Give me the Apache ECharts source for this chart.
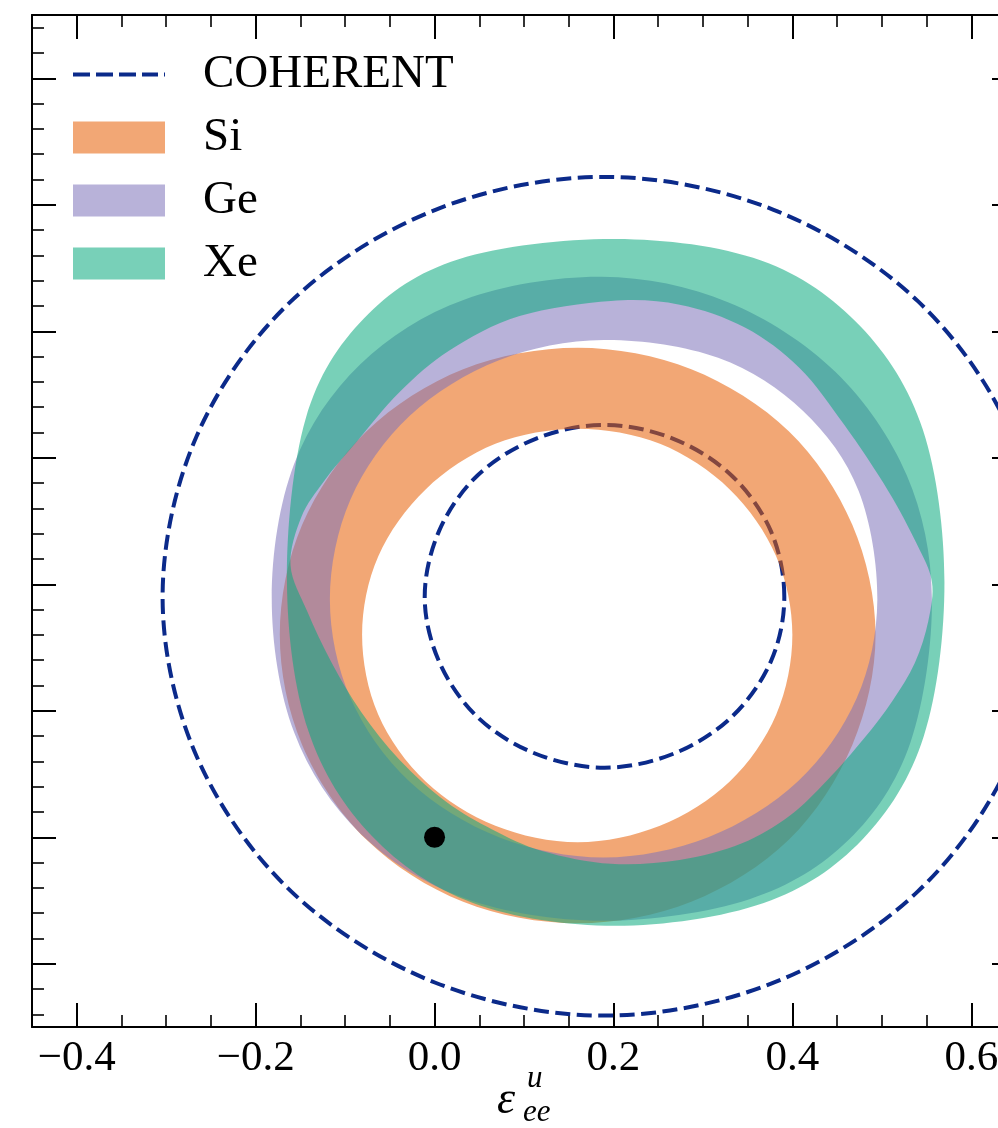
<!DOCTYPE html>
<html>
<head>
<meta charset="utf-8">
<script src="https://cdn.jsdelivr.net/npm/echarts@6/dist/echarts.min.js"></script>
<style>
html,body{margin:0;padding:0;background:#fff;overflow:hidden;width:998px;height:1128px}
#c{width:1040px;height:1128px}
</style>
</head>
<body>
<div id="c"></div>
<script>
// ---------------- data ----------------
const legendNames = ['COHERENT', 'Si', 'Ge', 'Xe'];
const xTickValues = [-0.4, -0.2, 0.0, 0.2, 0.4, 0.6];
const smPoint = [0.0, 0.0];

// COHERENT allowed-region boundaries (dashed)
const cohOuter = [[0.684,0.190],[0.646,0.317],[0.540,0.424],[0.379,0.496],[0.190,0.522],[0.001,0.496],[-0.160,0.424],[-0.266,0.317],[-0.304,0.190],[-0.266,0.064],[-0.160,-0.043],[0.001,-0.115],[0.190,-0.141],[0.379,-0.115],[0.540,-0.043],[0.646,0.064]];
const cohInner = [[0.391,0.190],[0.376,0.242],[0.332,0.286],[0.267,0.315],[0.190,0.326],[0.113,0.315],[0.048,0.286],[0.005,0.242],[-0.011,0.190],[0.005,0.139],[0.048,0.095],[0.113,0.066],[0.190,0.055],[0.267,0.066],[0.332,0.095],[0.376,0.139]];

// Si band
const siOuter = [[0.493,0.160],[0.467,0.247],[0.396,0.321],[0.287,0.370],[0.160,0.387],[0.032,0.370],[-0.076,0.321],[-0.148,0.247],[-0.173,0.160],[-0.148,0.073],[-0.076,-0.002],[0.032,-0.051],[0.160,-0.068],[0.287,-0.051],[0.396,-0.002],[0.467,0.073]];
const siInner = [[0.400,0.160],[0.382,0.222],[0.330,0.275],[0.252,0.311],[0.160,0.323],[0.068,0.311],[-0.010,0.275],[-0.063,0.222],[-0.081,0.160],[-0.063,0.097],[-0.010,0.044],[0.068,0.009],[0.160,-0.004],[0.252,0.009],[0.330,0.044],[0.382,0.097]];

// Ge band
const geOuter = [[0.556,0.189],[0.528,0.286],[0.448,0.368],[0.328,0.423],[0.187,0.443],[0.033,0.425],[-0.083,0.374],[-0.157,0.295],[-0.182,0.189],[-0.157,0.083],[-0.083,0.003],[0.033,-0.048],[0.187,-0.066],[0.352,-0.049],[0.463,-0.002],[0.532,0.075]];
const geInner = [[0.495,0.188],[0.474,0.274],[0.412,0.337],[0.317,0.379],[0.189,0.393],[0.072,0.377],[-0.028,0.333],[-0.094,0.267],[-0.117,0.188],[-0.094,0.110],[-0.028,0.044],[0.072,0.000],[0.189,-0.016],[0.306,0.000],[0.406,0.044],[0.472,0.110]];

// Xe band
const xeOuter = [[0.570,0.202],[0.546,0.322],[0.476,0.404],[0.365,0.456],[0.202,0.473],[0.027,0.457],[-0.079,0.410],[-0.144,0.331],[-0.165,0.202],[-0.141,0.084],[-0.070,0.001],[0.043,-0.052],[0.202,-0.070],[0.368,-0.052],[0.478,-0.002],[0.547,0.080]];
const xeInner = [[0.197,0.424],[0.274,0.421],[0.347,0.403],[0.408,0.371],[0.458,0.326],[0.507,0.274],[0.539,0.232],[0.556,0.202],[0.552,0.171],[0.537,0.138],[0.512,0.108],[0.480,0.078],[0.439,0.045],[0.397,0.017],[0.343,-0.005],[0.274,-0.018],[0.197,-0.021],[0.121,-0.011],[0.065,0.006],[0.013,0.028],[-0.039,0.061],[-0.082,0.099],[-0.115,0.138],[-0.142,0.178],[-0.161,0.215],[-0.149,0.253],[-0.123,0.282],[-0.089,0.311],[-0.039,0.352],[0.017,0.385],[0.095,0.412]];

// ---------------- styling ----------------
const FONT = 'Liberation Serif';
const NAVY = '#0b2a8a';
const COLORS = { Si: 'rgba(232,94,4,0.55)', Ge: 'rgba(125,115,185,0.55)', Xe: 'rgba(10,170,125,0.55)' };
const DASH_ICON = 'path://M0,0h17v4h-17zM23,0h17v4h-17zM46,0h17v4h-17zM69,0h16v4h-16zM91,0h1v4h-1z';

function toPx(api, pts) { return pts.map(p => api.coord(p)); }
function signedArea(p) {
  let s = 0;
  for (let i = 0; i < p.length; i++) { const a = p[i], b = p[(i + 1) % p.length]; s += a[0] * b[1] - b[0] * a[1]; }
  return s;
}
function closedCurve(p) {
  const n = p.length, f = v => v.toFixed(2);
  let d = 'M' + f(p[0][0]) + ' ' + f(p[0][1]);
  for (let k = 0; k < n; k++) {
    const p0 = p[(k - 1 + n) % n], p1 = p[k], p2 = p[(k + 1) % n], p3 = p[(k + 2) % n];
    const c1x = p1[0] + (p2[0] - p0[0]) / 6, c1y = p1[1] + (p2[1] - p0[1]) / 6;
    const c2x = p2[0] - (p3[0] - p1[0]) / 6, c2y = p2[1] - (p3[1] - p1[1]) / 6;
    d += ' C' + f(c1x) + ' ' + f(c1y) + ' ' + f(c2x) + ' ' + f(c2y) + ' ' + f(p2[0]) + ' ' + f(p2[1]);
  }
  return d + ' Z';
}
function ringSeries(name, outer, inner) {
  return {
    type: 'custom', name: name, coordinateSystem: 'cartesian2d', silent: true,
    data: [[0, 0]], itemStyle: { color: COLORS[name] },
    renderItem: function (params, api) {
      const o = toPx(api, outer);
      let i = toPx(api, inner);
      if (Math.sign(signedArea(o)) === Math.sign(signedArea(i))) i = i.slice().reverse();
      return { type: 'path', shape: { pathData: closedCurve(o) + ' ' + closedCurve(i) },
               style: { fill: COLORS[name], stroke: null } };
    }
  };
}

const fmt = v => (Math.abs(v) < 1e-9 ? 0 : v).toFixed(1).replace('-', '\u2212');

function axisBase(min, max, split, minorSplit) {
  return {
    type: 'value', min: min, max: max, splitNumber: split,
    axisLine: { show: true, onZero: false, lineStyle: { color: '#000', width: 2 } },
    axisTick: { show: true, inside: true, length: 24, lineStyle: { color: '#000', width: 2 } },
    minorTick: { show: true, splitNumber: minorSplit, length: 12, lineStyle: { color: '#000', width: 1.6 } },
    splitLine: { show: false }, minorSplitLine: { show: false }
  };
}

const xBottom = Object.assign(axisBase(-0.45, 0.65, 5, 4), {
  position: 'bottom',
  axisLabel: { show: true, fontFamily: FONT, fontSize: 43, color: '#000', margin: 10,
    showMinLabel: false, showMaxLabel: false,
    formatter: v => (xTickValues.some(t => Math.abs(t - v) < 1e-6) ? fmt(v) : '') }
});
const xTop = Object.assign(axisBase(-0.45, 0.65, 5, 4), { position: 'top', axisLabel: { show: false } });
const yLeft = Object.assign(axisBase(-0.15, 0.65, 8, 5), { position: 'left', axisLabel: { show: false } });
const yRight = Object.assign(axisBase(-0.15, 0.65, 8, 5), { position: 'right', axisLabel: { show: false } });

const option = {
  animation: false,
  backgroundColor: '#fff',
  textStyle: { fontFamily: FONT },
  grid: { left: 32, top: 15, width: 984, height: 1012, containLabel: false, outerBoundsMode: 'none' },
  xAxis: [xBottom, xTop],
  yAxis: [yLeft, yRight],
  legend: {
    left: 73, top: 51, orient: 'vertical', padding: 0,
    itemWidth: 92, itemHeight: 32, itemGap: 16, selectedMode: false, symbolKeepAspect: true,
    textStyle: { fontFamily: FONT, fontSize: 47, color: '#000', padding: [0, 0, 0, 33] },
    data: [{ name: legendNames[0], icon: DASH_ICON }, { name: legendNames[1], icon: 'rect' },
           { name: legendNames[2], icon: 'rect' }, { name: legendNames[3], icon: 'rect' }]
  },
  graphic: [
    { type: 'text', x: 497, y: 1101, silent: true,
      style: { text: '\u03b5', fontFamily: FONT, fontStyle: 'italic', fontSize: 46, fill: '#000', align: 'left', verticalAlign: 'middle' } },
    { type: 'text', x: 527, y: 1079, silent: true,
      style: { text: 'u', fontFamily: FONT, fontStyle: 'italic', fontSize: 31, fill: '#000', align: 'left', verticalAlign: 'middle' } },
    { type: 'text', x: 523, y: 1113, silent: true,
      style: { text: 'ee', fontFamily: FONT, fontStyle: 'italic', fontSize: 31, fill: '#000', align: 'left', verticalAlign: 'middle' } }
  ],
  series: [
    { type: 'custom', name: legendNames[0], coordinateSystem: 'cartesian2d', silent: true,
      data: [[0, 0]], itemStyle: { color: NAVY },
      renderItem: function (params, api) {
        const st = { fill: null, stroke: NAVY, lineWidth: 4, lineDash: [15, 6.5] };
        return { type: 'group', children: [
          { type: 'path', shape: { pathData: closedCurve(toPx(api, cohOuter)) }, style: st },
          { type: 'path', shape: { pathData: closedCurve(toPx(api, cohInner)) }, style: st }
        ] };
      } },
    ringSeries('Si', siOuter, siInner),
    ringSeries('Ge', geOuter, geInner),
    ringSeries('Xe', xeOuter, xeInner),
    { type: 'scatter', name: 'SM', data: [smPoint], symbol: 'circle', symbolSize: 21,
      itemStyle: { color: '#000', opacity: 1 }, silent: true, z: 10 }
  ]
};

const chart = echarts.init(document.getElementById('c'), null, { renderer: 'canvas' });
chart.setOption(option);
</script>
</body>
</html>
